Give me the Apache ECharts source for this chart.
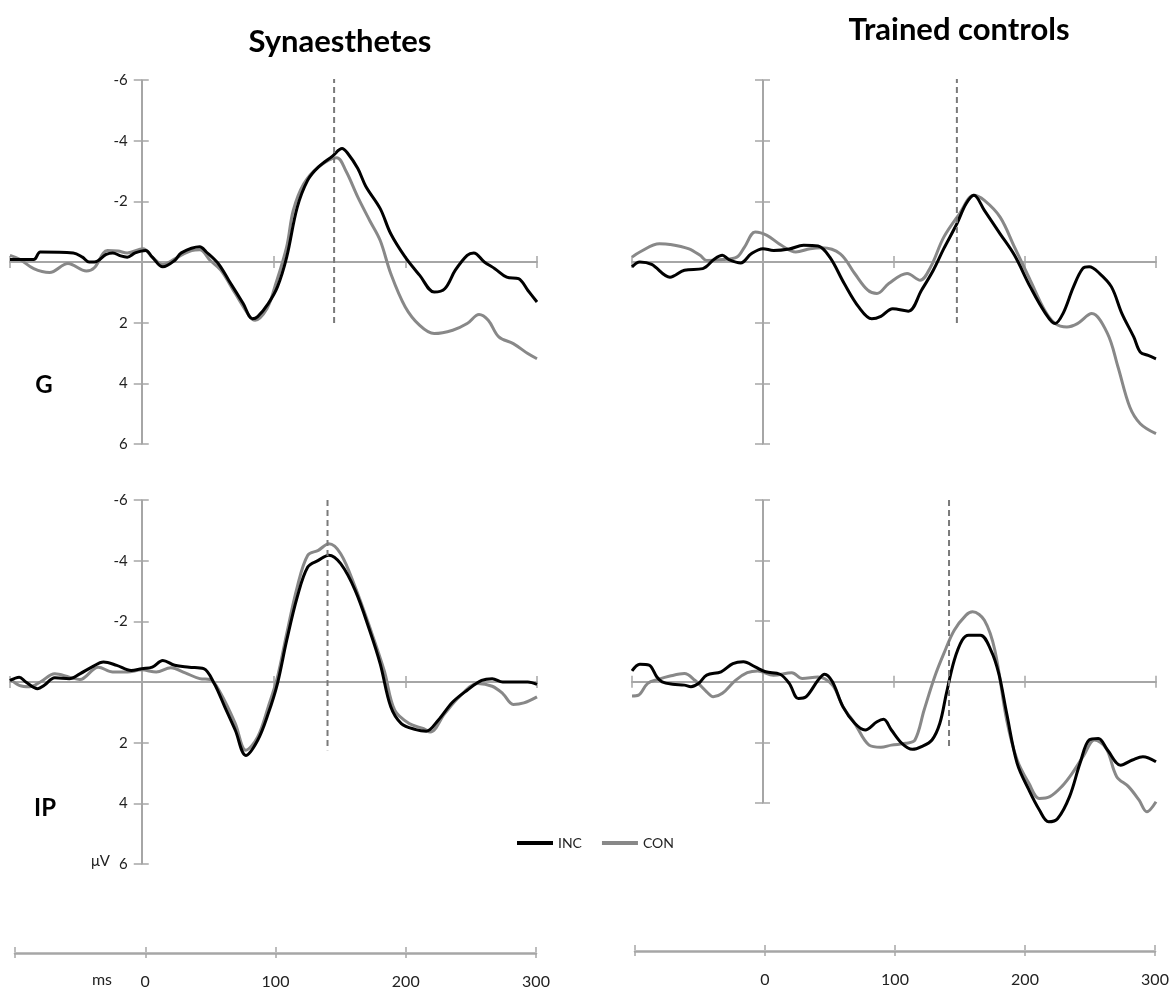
<!DOCTYPE html>
<html>
<head>
<meta charset="utf-8">
<title>ERP waveforms</title>
<script src="https://cdn.jsdelivr.net/npm/echarts@6.0.0/dist/echarts.min.js"></script>
<style>
  html, body { margin: 0; padding: 0; background: #fff; }
  #chart { width: 1176px; height: 989px; }
</style>
</head>
<body>
<div id="chart"></div>
<script>
// [ms, µV], negative is drawn upward
const synG_INC = [[-100,-0.08],[-82,-0.08],[-77,-0.33],[-52,-0.3],[-45,-0.16],[-40,0],[-36,0],[-27,-0.25],[-22,-0.3],[-16,-0.2],[-11,-0.16],[-5,-0.3],[3,-0.38],[8,-0.16],[16,0.16],[25,-0.05],[30,-0.3],[44,-0.5],[49,-0.33],[58,0.05],[66,0.6],[77,1.37],[84,1.87],[88,1.8],[96,1.37],[103,0.82],[110,-0.16],[118,-1.8],[126,-2.7],[134,-3.13],[145,-3.5],[152,-3.74],[156,-3.6],[164,-3.08],[170,-2.5],[181,-1.76],[189,-0.93],[200,-0.16],[211,0.44],[222,0.99],[230,0.88],[238,0.27],[247,-0.22],[252,-0.3],[260,0],[268,0.22],[277,0.5],[286,0.55],[293,0.93],[300,1.32]];
const synG_CON = [[-100,-0.22],[-93,-0.1],[-82,0.22],[-70,0.35],[-56,0.05],[-42,0.3],[-36,0.19],[-26,-0.38],[-18,-0.36],[-11,-0.3],[1,-0.44],[8,-0.16],[16,0.08],[25,-0.1],[38,-0.38],[44,-0.4],[52,-0.05],[60,0.27],[71,1.04],[82,1.8],[86,1.92],[95,1.54],[101,0.82],[110,-0.5],[115,-1.7],[123,-2.58],[134,-3.13],[148,-3.44],[155,-3.0],[164,-2.14],[173,-1.37],[181,-0.71],[189,0.38],[200,1.48],[211,2.09],[222,2.36],[236,2.25],[247,2.03],[256,1.73],[263,1.92],[271,2.47],[282,2.69],[293,3.02],[300,3.19]];

const ctlG_INC = [[-100,0.16],[-94,0],[-85,0.08],[-71,0.5],[-60,0.27],[-46,0.22],[-37,-0.1],[-31,-0.22],[-26,-0.08],[-17,0.03],[-9,-0.27],[0,-0.44],[8,-0.38],[20,-0.43],[31,-0.55],[42,-0.53],[51,-0.16],[62,0.71],[73,1.48],[83,1.87],[90,1.79],[99,1.54],[111,1.62],[121,0.93],[130,0.27],[138,-0.44],[148,-1.26],[155,-1.92],[161,-2.2],[169,-1.7],[181,-0.93],[192,-0.22],[204,0.82],[215,1.65],[223,2.03],[229,1.7],[237,0.82],[244,0.22],[249,0.16],[257,0.38],[266,0.82],[274,1.7],[283,2.47],[288,2.97],[294,3.08],[300,3.19]];
const ctlG_CON = [[-100,-0.16],[-94,-0.33],[-79,-0.6],[-71,-0.58],[-57,-0.44],[-48,-0.22],[-43,-0.05],[-31,-0.08],[-20,-0.16],[-14,-0.5],[-6,-0.99],[3,-0.88],[14,-0.55],[25,-0.33],[36,-0.44],[45,-0.47],[59,-0.27],[70,0.38],[80,0.93],[87,1.04],[96,0.71],[110,0.38],[120,0.6],[128,0.16],[138,-0.82],[150,-1.59],[161,-2.2],[169,-2.03],[181,-1.48],[192,-0.49],[204,0.6],[215,1.59],[223,2.03],[232,2.14],[240,2.03],[251,1.7],[263,2.36],[271,3.46],[280,4.78],[288,5.33],[300,5.66]];

const synIP_INC = [[-100,-0.05],[-93,-0.16],[-88,0],[-79,0.22],[-74,0.11],[-66,-0.14],[-55,-0.11],[-47,-0.27],[-38,-0.49],[-29,-0.66],[-19,-0.55],[-8,-0.38],[0,-0.44],[8,-0.49],[16,-0.71],[25,-0.55],[36,-0.49],[47,-0.44],[55,0.05],[63,0.82],[71,1.59],[79,2.42],[88,1.92],[96,1.04],[103,0.05],[110,-1.37],[118,-2.8],[126,-3.79],[134,-4.01],[142,-4.18],[151,-3.9],[162,-3.02],[173,-1.7],[181,-0.6],[189,0.82],[197,1.37],[208,1.57],[216,1.62],[225,1.26],[236,0.66],[247,0.27],[258,-0.05],[266,-0.11],[274,0],[285,0],[293,0],[300,0.08]];
const synIP_CON = [[-100,-0.1],[-93,0.11],[-85,0.16],[-77,0],[-66,-0.27],[-55,-0.16],[-47,-0.08],[-33,-0.49],[-22,-0.33],[-11,-0.33],[0,-0.4],[11,-0.33],[22,-0.47],[33,-0.3],[44,-0.11],[52,-0.08],[60,0.38],[71,1.37],[79,2.25],[88,1.81],[96,0.82],[103,-0.16],[110,-1.59],[118,-3.13],[126,-4.18],[134,-4.34],[142,-4.56],[151,-4.23],[162,-3.13],[173,-1.81],[184,-0.38],[192,0.93],[203,1.37],[214,1.54],[219,1.65],[230,1.04],[241,0.49],[255,0.05],[266,0.14],[274,0.38],[282,0.74],[290,0.69],[300,0.49]];

const ctlIP_INC = [[-100,-0.36],[-94,-0.58],[-87,-0.55],[-81,-0.16],[-77,0],[-69,0.08],[-60,0.11],[-55,0.16],[-49,0.05],[-43,-0.22],[-32,-0.33],[-23,-0.6],[-15,-0.66],[-6,-0.49],[2,-0.33],[13,-0.25],[20,0.05],[27,0.55],[33,0.49],[42,-0.05],[47,-0.25],[53,0],[61,0.82],[70,1.37],[78,1.59],[87,1.32],[92,1.24],[98,1.59],[106,2.03],[114,2.23],[121,2.14],[129,1.92],[135,1.37],[140,0.38],[146,-0.71],[152,-1.37],[157,-1.54],[166,-1.54],[174,-1.04],[180,-0.27],[186,1.04],[194,2.69],[203,3.57],[211,4.23],[218,4.62],[225,4.51],[234,3.79],[242,2.69],[249,1.92],[256,1.87],[263,2.25],[273,2.75],[282,2.58],[290,2.47],[300,2.64]];
const ctlIP_CON = [[-100,0.47],[-95,0.44],[-88,0.05],[-80,-0.08],[-71,-0.19],[-60,-0.27],[-52,-0.05],[-43,0.33],[-38,0.49],[-31,0.38],[-21,-0.05],[-12,-0.3],[-4,-0.36],[8,-0.22],[22,-0.3],[30,-0.11],[42,-0.16],[53,0.11],[61,0.82],[70,1.37],[81,2.09],[90,2.16],[98,2.09],[109,2.03],[116,1.92],[123,0.93],[131,-0.16],[138,-0.93],[146,-1.7],[155,-2.2],[160,-2.31],[169,-2.03],[177,-1.04],[186,1.26],[194,2.58],[203,3.35],[211,3.85],[219,3.79],[228,3.46],[236,3.02],[245,2.42],[253,1.92],[262,2.2],[270,3.13],[279,3.46],[287,3.9],[293,4.29],[300,3.96]];

// dashed peak markers: time, top, bottom
const markerMs = [146, 148, 141, 142];
const markerTop = [-6.1, -6.1, -6.0, -6.0];
const markerBottom = [2.14, 2.14, 2.25, 2.2];

const timeTicks = [-100, 0, 100, 200, 300];

const AXIS = '#a6a6a6';
const FONT = 'Lato, "Open Sans", sans-serif';

const panels = [
  { box: { left: 10, top: 80, width: 527, height: 364 }, inc: synG_INC, con: synG_CON, yMax: 6, labels: true },
  { box: { left: 632, top: 80, width: 524, height: 364 }, inc: ctlG_INC, con: ctlG_CON, yMax: 6, labels: false },
  { box: { left: 10, top: 500, width: 527, height: 364 }, inc: synIP_INC, con: synIP_CON, yMax: 6, labels: true },
  { box: { left: 632, top: 500, width: 524, height: 303 }, inc: ctlIP_INC, con: ctlIP_CON, yMax: 4, labels: false }
];

const grid = [], xAxis = [], yAxis = [], series = [];
const tickStyle = { color: AXIS, width: 1.5 };

function addGrid(box) {
  grid.push(Object.assign({ outerBoundsMode: 'none', containLabel: false }, box));
  return grid.length - 1;
}

panels.forEach((p, i) => {
  // data grid: zero line with ticks on both sides
  const g = addGrid(p.box);
  const yFirst = yAxis.length;
  [0, 1].forEach(() => yAxis.push({
    gridIndex: g, type: 'value', inverse: true, min: -6, max: p.yMax, show: false
  }));
  const xFirst = xAxis.length;
  xAxis.push({
    gridIndex: g, type: 'value', min: -100, max: 300, interval: 100, position: 'bottom',
    axisLine: { onZero: true, onZeroAxisIndex: yFirst, lineStyle: { color: AXIS, width: 2 } },
    axisTick: { show: true, length: 6, lineStyle: tickStyle },
    axisLabel: { show: false }, splitLine: { show: false }
  });
  xAxis.push({
    gridIndex: g, type: 'value', min: -100, max: 300, interval: 100, position: 'top',
    axisLine: { show: false, onZero: true, onZeroAxisIndex: yFirst + 1 },
    axisTick: { show: true, length: 6, lineStyle: tickStyle },
    axisLabel: { show: false }, splitLine: { show: false }
  });

  series.push({
    name: 'INC', type: 'line', xAxisIndex: xFirst, yAxisIndex: yFirst, data: p.inc,
    smooth: 0.35, symbol: 'none', clip: false, z: 4,
    lineStyle: { color: '#000', width: 3 }, itemStyle: { color: '#000' }
  });
  series.push({
    name: 'CON', type: 'line', xAxisIndex: xFirst, yAxisIndex: yFirst, data: p.con,
    smooth: 0.35, symbol: 'none', clip: false, z: 3,
    lineStyle: { color: '#888', width: 3 }, itemStyle: { color: '#888' }
  });
  series.push({
    type: 'line', xAxisIndex: xFirst, yAxisIndex: yFirst, symbol: 'none', silent: true, z: 5,
    data: [[markerMs[i], markerTop[i]], [markerMs[i], markerBottom[i]]],
    lineStyle: { color: '#7a7a7a', width: 2, type: [6, 4] }
  });

  // vertical µV axis sitting at 0 ms
  const a = addGrid({
    left: p.box.left + p.box.width / 4, top: p.box.top, width: 1, height: p.box.height
  });
  xAxis.push({ gridIndex: a, type: 'value', min: 0, max: 1, show: false });
  yAxis.push({
    gridIndex: a, type: 'value', inverse: true, min: -6, max: p.yMax, interval: 2, position: 'left',
    axisLine: { show: true, onZero: false, lineStyle: { color: AXIS, width: 2 } },
    axisTick: { show: true, length: 8, lineStyle: tickStyle },
    axisLabel: {
      show: p.labels, margin: 14, color: '#222', fontSize: 15, fontFamily: FONT,
      formatter: v => (v === 0 ? '' : String(v))
    },
    splitLine: { show: false }
  });
  yAxis.push({
    gridIndex: a, type: 'value', inverse: true, min: -6, max: p.yMax, interval: 2, position: 'right',
    axisLine: { show: false, onZero: false },
    axisTick: { show: true, length: 6, lineStyle: tickStyle },
    axisLabel: { show: false }, splitLine: { show: false }
  });
});

// separate time scales under each column
const timeAxes = [
  { left: 15, top: 952, width: 521, height: 1 },
  { left: 635, top: 950, width: 520, height: 1 }
];
timeAxes.forEach(b => {
  const g = addGrid(b);
  yAxis.push({ gridIndex: g, type: 'value', show: false, min: 0, max: 1 });
  xAxis.push({
    gridIndex: g, type: 'value', min: -100, max: 300, interval: 100, position: 'bottom',
    axisLine: { onZero: false, lineStyle: { color: AXIS, width: 2.5 } },
    axisTick: { show: true, length: 5, lineStyle: tickStyle },
    axisLabel: {
      margin: 21, color: '#222', fontSize: 16, fontFamily: FONT,
      formatter: v => (timeTicks.indexOf(v) > 0 ? String(v) : '')
    },
    splitLine: { show: false }
  });
  xAxis.push({
    gridIndex: g, type: 'value', min: -100, max: 300, interval: 100, position: 'top',
    axisLine: { show: false, onZero: false },
    axisTick: { show: true, length: 5, lineStyle: tickStyle },
    axisLabel: { show: false }, splitLine: { show: false }
  });
});

const chart = echarts.init(document.getElementById('chart'));
chart.setOption({
  backgroundColor: '#fff',
  animation: false,
  grid, xAxis, yAxis, series,
  legend: {
    data: ['INC', 'CON'], left: 512, top: 831, icon: 'rect',
    itemWidth: 36, itemHeight: 4, itemGap: 20,
    textStyle: { fontSize: 14, color: '#222', fontFamily: FONT }
  },
  graphic: [
    { type: 'text', style: { text: 'Synaesthetes', x: 340, y: 42, align: 'center', verticalAlign: 'middle', font: 'bold 31px ' + FONT, fill: '#000' } },
    { type: 'text', style: { text: 'Trained controls', x: 959, y: 30, align: 'center', verticalAlign: 'middle', font: 'bold 31px ' + FONT, fill: '#000' } },
    { type: 'text', style: { text: 'G', x: 44, y: 385, align: 'center', verticalAlign: 'middle', font: 'bold 24px ' + FONT, fill: '#000' } },
    { type: 'text', style: { text: 'IP', x: 45, y: 808, align: 'center', verticalAlign: 'middle', font: 'bold 24px ' + FONT, fill: '#000' } },
    { type: 'text', style: { text: 'μV', x: 110, y: 861, align: 'right', verticalAlign: 'middle', font: '15px ' + FONT, fill: '#222' } },
    { type: 'text', style: { text: 'ms', x: 112, y: 980, align: 'right', verticalAlign: 'middle', font: '16px ' + FONT, fill: '#222' } }
  ]
});
</script>
</body>
</html>
